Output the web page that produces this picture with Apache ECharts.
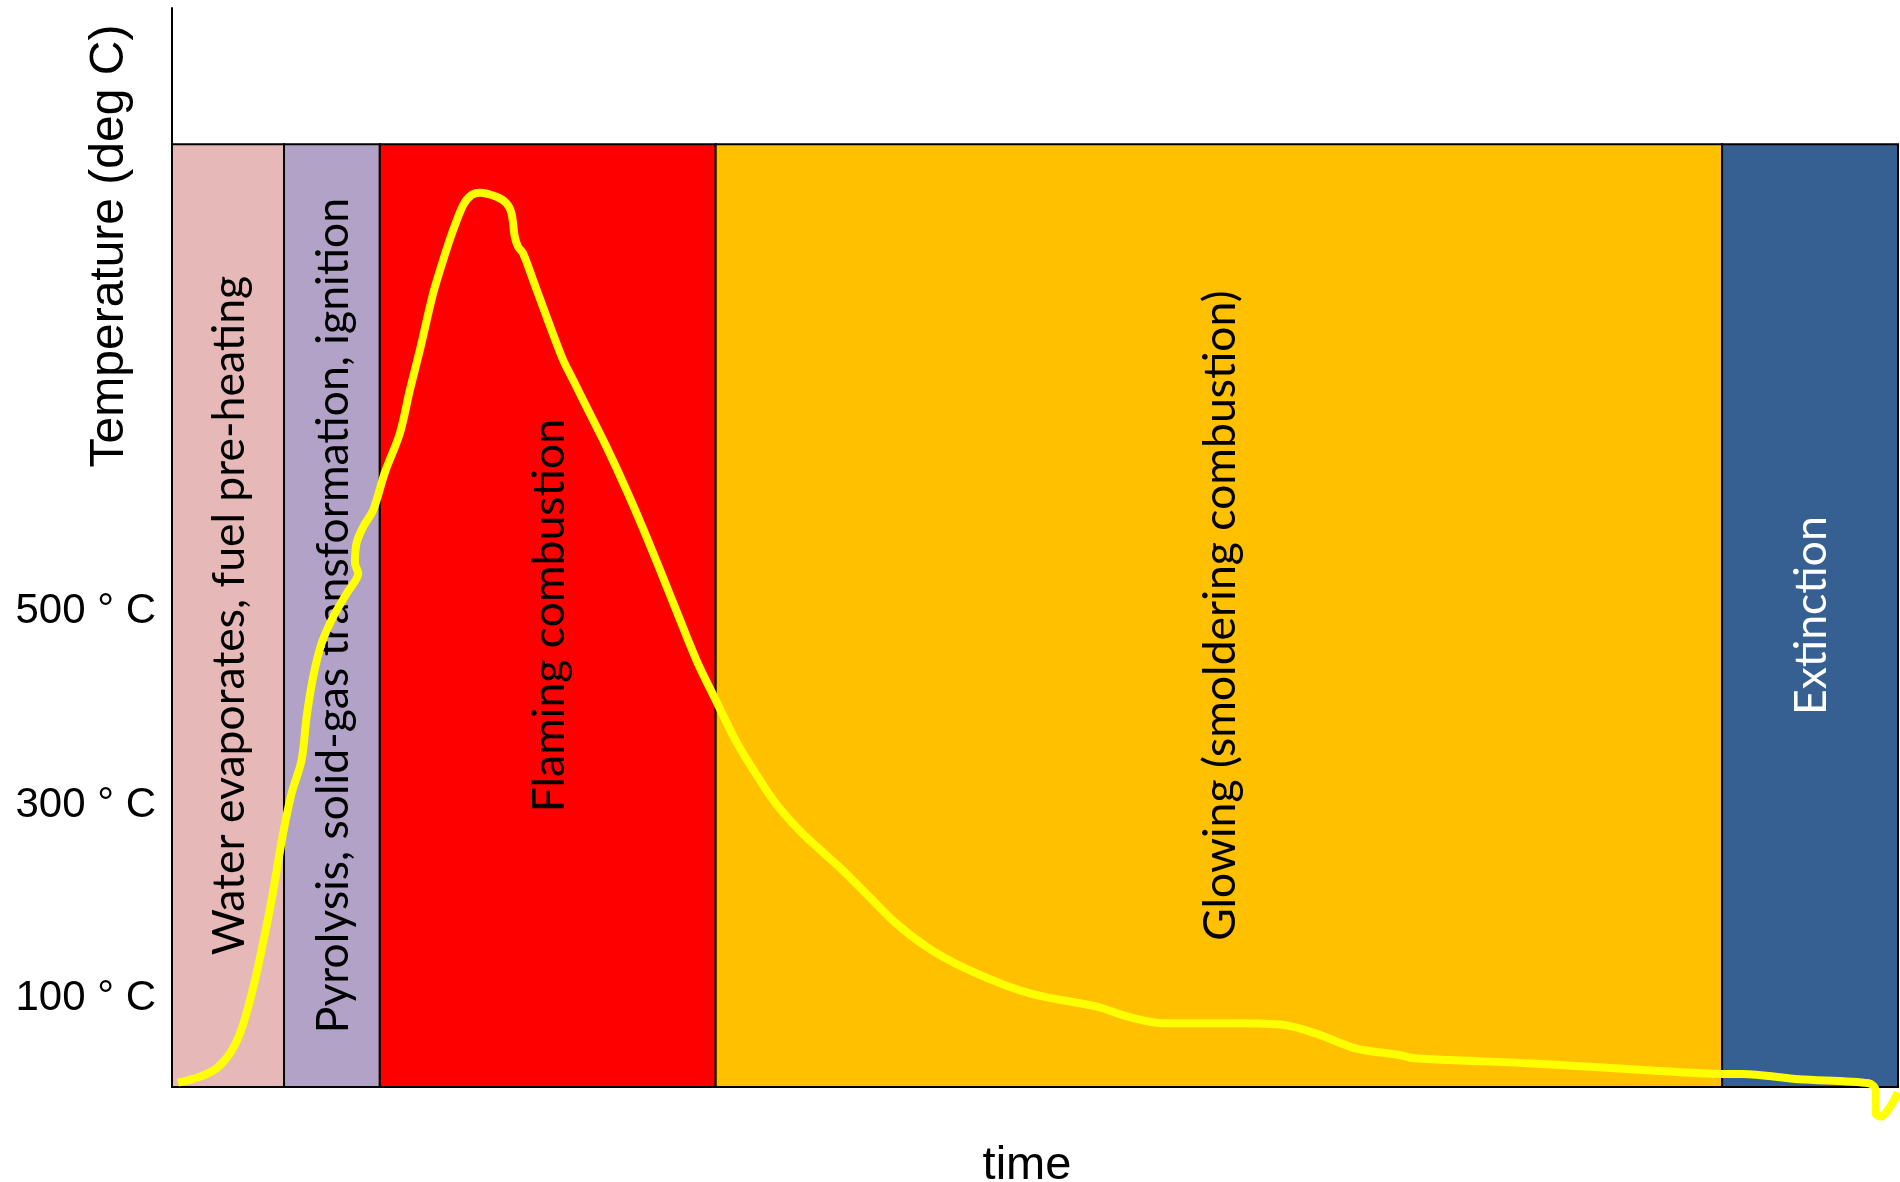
<!DOCTYPE html>
<html>
<head>
<meta charset="utf-8">
<script src="https://cdn.jsdelivr.net/npm/echarts@6/dist/echarts.min.js"></script>
<style>
  html, body { margin: 0; padding: 0; background: #fff; }
  #chart { width: 1900px; height: 1182px; }
</style>
</head>
<body>
<div id="chart"></div>
<script>
// ---- data ----
const bandNames = [
  'Water evaporates, fuel pre-heating',
  'Pyrolysis, solid-gas transformation, ignition',
  'Flaming combustion',
  'Glowing (smoldering combustion)',
  'Extinction'
];
const bandStart = [0, 6.49, 12.04, 31.5, 89.81];
const bandEnd = [6.49, 12.04, 31.5, 89.81, 100];
const bandTop = 984;

const tempTime = [
  0.35, 1.62, 2.59, 3.36, 3.94, 4.42, 4.90, 5.39, 5.77, 6.44,
  6.93, 7.51, 7.80, 8.18, 8.67, 9.34, 10.12, 10.79, 10.60, 10.69,
  11.08, 11.66, 12.33, 13.20, 13.78, 14.36, 15.13, 15.71, 16.29, 16.87,
  17.35, 17.83, 18.80, 19.38, 19.67, 19.86, 20.05, 20.34, 20.92, 21.70,
  22.66, 23.24, 24.20, 25.17, 26.33, 27.49, 29.03, 30.38, 31.44, 32.64,
  33.68, 34.97, 36.52, 38.85, 40.39, 41.95, 44.01, 46.60, 49.70, 53.58,
  55.39, 57.46, 61.59, 64.44, 66.24, 68.56, 71.11, 71.96, 78.61, 85.26,
  89.83, 90.98, 94.27, 98.32, 98.71, 98.71, 99.00, 100
];
const tempValues = [
  12.5, 18.7, 27.4, 42.9, 63.6, 91.1, 125.7, 167.1, 201.6, 270.6,
  312, 346.5, 391.3, 432.7, 467.3, 494.8, 519, 539.8, 550.1, 570.8,
  588, 605.3, 644, 684.7, 729.5, 770.9, 829.6, 864.1, 895.2, 921,
  931.4, 933.8, 929.6, 922.8, 912.4, 888.2, 877.9, 871, 843.4, 805.4,
  760.6, 739.9, 705.4, 670.8, 626, 577.7, 509.6, 450, 410.7, 367.2,
  336.2, 301.7, 270.6, 232.6, 205, 177.4, 149.8, 125.7, 105, 91.1,
  80.8, 73.9, 73.9, 72.2, 63.6, 48.1, 41.1, 37.7, 32.5, 25.6,
  21.5, 21.5, 16, 11.8, 4.9, -19.2, -22.7, 2.3
];
const tickValues = [100, 300, 500];
const yMin = 8;
const yMax = 1125;

// ---- styles ----
const bandColors = ['#E6B9B8', '#B3A2C7', '#FF0000', '#FFC000', '#376092'];
const bandTextColors = ['#000', '#000', '#000', '#000', '#fff'];

const bandData = bandNames.map((n, i) => [bandStart[i], bandEnd[i], bandTop, i]);
const lineData = tempTime.map((t, i) => [t, tempValues[i]]);

const chart = echarts.init(document.getElementById('chart'), null, { renderer: 'canvas' });
chart.setOption({
  animation: false,
  backgroundColor: '#fff',
  grid: { left: 172, right: 2, top: 8, bottom: 95, containLabel: false, outerBoundsMode: 'none' },
  xAxis: {
    type: 'value', min: 0, max: 100,
    axisLine: { show: true, lineStyle: { color: '#000', width: 2 } },
    axisTick: { show: false }, axisLabel: { show: false }, splitLine: { show: false },
    name: 'time', nameLocation: 'middle', nameGap: 56,
    nameTextStyle: { fontSize: 47, fontFamily: 'Liberation Sans', color: '#000', padding: [0, 16, 0, 0] }
  },
  yAxis: {
    type: 'value', min: yMin, max: yMax,
    axisLine: { show: true, lineStyle: { color: '#000', width: 2 } },
    axisTick: { show: false }, splitLine: { show: false },
    axisLabel: {
      customValues: tickValues,
      formatter: v => v + ' \u00B0 C',
      fontSize: 42, fontFamily: 'Liberation Sans', color: '#000', margin: 16,
      padding: [5, 0, 0, 0]
    }
  },
  graphic: [{
    type: 'text', x: 110, y: 246, rotation: Math.PI / 2,
    style: { text: 'Temperature (deg C)', font: '48px "Liberation Sans"', fill: '#000', align: 'center', verticalAlign: 'middle' }
  }],
  series: [
    {
      type: 'custom', z: 1, clip: false,
      data: bandData,
      renderItem: function (params, api) {
        const s = api.value(0), e = api.value(1), top = api.value(2), i = api.value(3);
        const p0 = api.coord([s, top]);
        const p1 = api.coord([e, yMin]);
        return {
          type: 'group',
          children: [
            { type: 'rect', shape: { x: p0[0], y: p0[1], width: p1[0] - p0[0], height: p1[1] - p0[1] },
              style: { fill: bandColors[i], stroke: '#000', lineWidth: 2 } },
            { type: 'text', x: (p0[0] + p1[0]) / 2 + 2, y: (p0[1] + p1[1]) / 2, rotation: Math.PI / 2,
              style: { text: bandNames[i], fill: bandTextColors[i], font: '44.5px Lato', align: 'center', verticalAlign: 'middle' } }
          ]
        };
      }
    },
    {
      type: 'line', z: 5, clip: false, showSymbol: false, symbol: 'none', smooth: 0.3,
      data: lineData,
      lineStyle: { color: '#FFFF00', width: 8 }
    }
  ]
});
</script>
</body>
</html>
